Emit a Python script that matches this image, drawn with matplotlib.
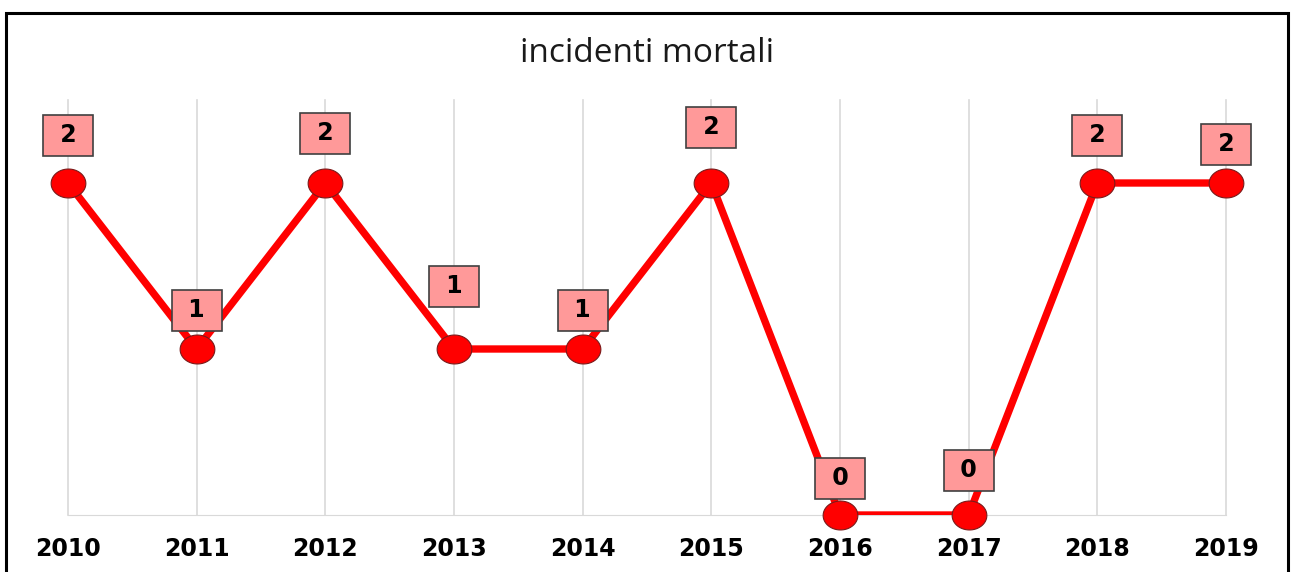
import matplotlib.pyplot as plt
import numpy as np
from matplotlib.patches import Rectangle
from matplotlib.path import Path

years = [2010, 2011, 2012, 2013, 2014, 2015, 2016, 2017, 2018, 2019]
deaths = [2, 1, 2, 1, 1, 2, 0, 0, 2, 2]
title = "incidenti mortali"

# vertical offset of each data label above its point, in pixels
label_dy = [48, 39, 50, 63, 39, 56, 37, 45, 48, 39]

W, H = 1296, 572
fig = plt.figure(figsize=(W / 100, H / 100), dpi=100)
ax = fig.add_axes([68 / W, 1 - 515 / H, (1226 - 68) / W, (515 - 100) / H])

# slightly wide oval marker
t = np.linspace(0, 2 * np.pi, 60)
oval = Path(np.column_stack([1.2 * np.cos(t), np.sin(t)]), closed=True)

# line is clipped to the plot area (thinner along the zero baseline, as in the original)
ax.plot(years, deaths, color="#ff0000", lw=5.3, solid_capstyle="round", zorder=3)
ax.plot(years, deaths, ls="none", marker=oval, ms=25, mfc="#ff0000",
        mec="#7a1a1a", mew=0.8, zorder=4, clip_on=False)

for x, y, dy in zip(years, deaths, label_dy):
    ax.annotate(f" {y} ", (x, y), xytext=(0, dy * 0.72), textcoords="offset points",
                ha="center", va="center", fontsize=17, fontweight="bold",
                color="black", zorder=5, annotation_clip=False,
                bbox=dict(boxstyle="square,pad=0.36", fc="#ff9999", ec="#404040", lw=1.2))

ax.set_xlim(2010, 2019)
ax.set_ylim(0, 2.5)
ax.set_xticks(years)
ax.set_xticklabels([str(y) for y in years], fontsize=17, fontweight="bold")
ax.tick_params(axis="x", length=0, pad=16)
ax.set_yticks([])
ax.grid(axis="x", color="#d9d9d9", lw=1.2)
for gl in ax.xaxis.get_gridlines():
    gl.set_clip_on(False)
for s in ["top", "right", "left"]:
    ax.spines[s].set_visible(False)
ax.spines["bottom"].set_color("#d9d9d9")
ax.set_axisbelow(True)

fig.text(647 / W, 1 - 54 / H, title, ha="center", va="center", fontsize=24,
         family="Open Sans", color="#1a1a1a")

fig.patches.append(Rectangle((6 / W, -0.1), (1288 - 6) / W, 1.1 - 13 / H,
                             transform=fig.transFigure, fill=False,
                             ec="black", lw=2.2, clip_on=False))

fig.savefig("out.png", dpi=100)
